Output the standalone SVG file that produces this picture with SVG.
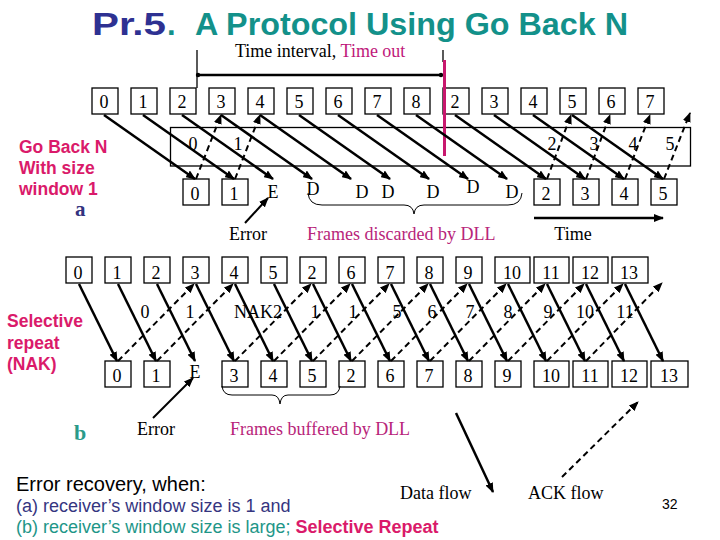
<svg xmlns="http://www.w3.org/2000/svg" width="720" height="540" viewBox="0 0 720 540">
<defs>
<marker id="ah" viewBox="0 0 10 8" refX="9" refY="4" markerWidth="10" markerHeight="8" markerUnits="userSpaceOnUse" orient="auto"><path d="M0,0 L10,4 L0,8 z" fill="#000"/></marker>
<style>
.box{fill:#fff;stroke:#000;stroke-width:1.3}
.num{font-family:"Liberation Serif","Times New Roman",serif;font-size:18px;fill:#000;text-anchor:middle}
.ser{font-family:"Liberation Serif","Times New Roman",serif;font-size:18px;fill:#000}
.mag{fill:#B8257A}
.lbl{font-family:"Liberation Sans",Arial,sans-serif;font-weight:bold;font-size:17.5px;fill:#DA1A6A}
.data{stroke:#000;stroke-width:2.5;fill:none;marker-end:url(#ah)}
.ack{stroke:#000;stroke-width:2;stroke-dasharray:6 4;fill:none;marker-end:url(#ah)}
.thin{stroke:#000;stroke-width:1.3;fill:none}
.sans{font-family:"Liberation Sans",Arial,sans-serif;font-size:18px}
</style>
</defs>
<rect width="720" height="540" fill="#fff"/>

<!-- Title -->
<text x="92" y="35" font-family="Liberation Sans, Arial, sans-serif" font-weight="bold" font-size="31" fill="#2E3192" textLength="74" lengthAdjust="spacingAndGlyphs">Pr.5</text>
<text x="167" y="35" font-family="Liberation Sans, Arial, sans-serif" font-weight="bold" font-size="31" fill="#13918A">.</text>
<text x="195" y="35" font-family="Liberation Sans, Arial, sans-serif" font-weight="bold" font-size="31" fill="#13918A" textLength="433" lengthAdjust="spacingAndGlyphs">A Protocol Using Go Back N</text>

<!-- Time-out interval -->
<g id="timeout">
<text class="ser" x="235" y="57">Time interval, <tspan fill="#C0187A">Time out</tspan></text>
<line class="thin" x1="197" y1="50" x2="197" y2="88"/>
<line class="thin" x1="443" y1="50" x2="443" y2="62"/>
<line x1="197" y1="75" x2="442" y2="75" stroke="#000" stroke-width="2.5"/>
<circle cx="198" cy="75" r="2.2" fill="#000"/>
<circle cx="441" cy="75" r="2.2" fill="#000"/>
</g>

<!-- Left labels -->
<text class="lbl" x="19" y="153">Go Back N</text>
<text class="lbl" x="19" y="174">With size</text>
<text class="lbl" x="19" y="195">window 1</text>
<text x="75" y="216" font-family="Liberation Serif, serif" font-weight="bold" font-size="21" fill="#333380">a</text>
<text class="lbl" x="7" y="327" font-size="18">Selective</text>
<text class="lbl" x="7" y="349" font-size="18">repeat</text>
<text class="lbl" x="7" y="370" font-size="18">(NAK)</text>
<text x="74" y="440" font-family="Liberation Serif, serif" font-weight="bold" font-size="22" fill="#2A9A8A">b</text>

<!-- Part a: receiver band -->
<rect id="a-band" x="170.5" y="127.5" width="520" height="38.5" fill="none" stroke="#000" stroke-width="1.3"/>

<!-- Part a top row -->
<g id="a-top0"><rect class="box" x="92" y="88" width="26" height="26"/><text class="num" x="104" y="108">0</text></g>
<g id="a-top1"><rect class="box" x="131" y="88" width="26" height="26"/><text class="num" x="143" y="108">1</text></g>
<g id="a-top2"><rect class="box" x="170" y="88" width="26" height="26"/><text class="num" x="182" y="108">2</text></g>
<g id="a-top3"><rect class="box" x="209" y="88" width="26" height="26"/><text class="num" x="221" y="108">3</text></g>
<g id="a-top4"><rect class="box" x="248" y="88" width="26" height="26"/><text class="num" x="260" y="108">4</text></g>
<g id="a-top5"><rect class="box" x="287" y="88" width="26" height="26"/><text class="num" x="299" y="108">5</text></g>
<g id="a-top6"><rect class="box" x="326" y="88" width="26" height="26"/><text class="num" x="338" y="108">6</text></g>
<g id="a-top7"><rect class="box" x="365" y="88" width="26" height="26"/><text class="num" x="377" y="108">7</text></g>
<g id="a-top8"><rect class="box" x="404" y="88" width="26" height="26"/><text class="num" x="416" y="108">8</text></g>
<g id="a-top9"><rect class="box" x="443" y="88" width="26" height="26"/><text class="num" x="455" y="108">2</text></g>
<g id="a-top10"><rect class="box" x="482" y="88" width="26" height="26"/><text class="num" x="494" y="108">3</text></g>
<g id="a-top11"><rect class="box" x="521" y="88" width="26" height="26"/><text class="num" x="533" y="108">4</text></g>
<g id="a-top12"><rect class="box" x="560" y="88" width="26" height="26"/><text class="num" x="572" y="108">5</text></g>
<g id="a-top13"><rect class="box" x="599" y="88" width="26" height="26"/><text class="num" x="611" y="108">6</text></g>
<g id="a-top14"><rect class="box" x="638" y="88" width="26" height="26"/><text class="num" x="650" y="108">7</text></g>

<!-- Part a bottom row -->
<g id="a-bot0"><rect class="box" x="183" y="179" width="26" height="26"/><text class="num" x="195" y="200">0</text></g>
<g id="a-bot1"><rect class="box" x="222" y="179" width="26" height="26"/><text class="num" x="234" y="200">1</text></g>
<g id="a-botE"><text class="num" x="273" y="198">E</text></g>
<g id="a-botD1"><text class="num" x="313" y="195">D</text></g>
<g id="a-botD2"><text class="num" x="362" y="198">D</text></g>
<g id="a-botD3"><text class="num" x="388" y="198">D</text></g>
<g id="a-botD4"><text class="num" x="433" y="198">D</text></g>
<g id="a-botD5"><text class="num" x="473" y="193">D</text></g>
<g id="a-botD6"><text class="num" x="512" y="198">D</text></g>
<g id="a-bot2"><rect class="box" x="534" y="179" width="26" height="26"/><text class="num" x="546" y="200">2</text></g>
<g id="a-bot3"><rect class="box" x="573" y="179" width="26" height="26"/><text class="num" x="585" y="200">3</text></g>
<g id="a-bot4"><rect class="box" x="612" y="179" width="26" height="26"/><text class="num" x="624" y="200">4</text></g>
<g id="a-bot5"><rect class="box" x="651" y="179" width="26" height="26"/><text class="num" x="663" y="200">5</text></g>

<!-- Part a band labels -->
<g id="a-acklabels">
<text class="num" x="193" y="150">0</text>
<text class="num" x="238" y="150">1</text>
<text class="num" x="552" y="150">2</text>
<text class="num" x="594" y="150">3</text>
<text class="num" x="633" y="150">4</text>
<text class="num" x="670" y="150">5</text>
</g>

<!-- Part a annotations -->
<g id="a-notes">
<text class="num" x="248" y="240">Error</text>
<text class="ser mag" x="307" y="240">Frames discarded by DLL</text>
<text class="num" x="573" y="240">Time</text>
<path d="M308,193 Q309,205 322,205 L404,205 Q413,205 414,214 Q415,205 424,205 L508,205 Q521,205 522,193" fill="none" stroke="#000" stroke-width="1"/>
</g>

<!-- Part b top row -->
<g id="b-top0"><rect class="box" x="66" y="257" width="26" height="26"/><text class="num" x="78" y="279">0</text></g>
<g id="b-top1"><rect class="box" x="105" y="257" width="26" height="26"/><text class="num" x="117" y="279">1</text></g>
<g id="b-top2"><rect class="box" x="144" y="257" width="26" height="26"/><text class="num" x="156" y="279">2</text></g>
<g id="b-top3"><rect class="box" x="183" y="257" width="26" height="26"/><text class="num" x="195" y="279">3</text></g>
<g id="b-top4"><rect class="box" x="222" y="257" width="26" height="26"/><text class="num" x="234" y="279">4</text></g>
<g id="b-top5"><rect class="box" x="261" y="257" width="26" height="26"/><text class="num" x="273" y="279">5</text></g>
<g id="b-top6"><rect class="box" x="300" y="257" width="26" height="26"/><text class="num" x="312" y="279">2</text></g>
<g id="b-top7"><rect class="box" x="339" y="257" width="26" height="26"/><text class="num" x="351" y="279">6</text></g>
<g id="b-top8"><rect class="box" x="378" y="257" width="26" height="26"/><text class="num" x="390" y="279">7</text></g>
<g id="b-top9"><rect class="box" x="417" y="257" width="26" height="26"/><text class="num" x="429" y="279">8</text></g>
<g id="b-top10"><rect class="box" x="456" y="257" width="26" height="26"/><text class="num" x="468" y="279">9</text></g>
<g id="b-top11"><rect class="box" x="495" y="257" width="35" height="26"/><text class="num" x="512" y="279">10</text></g>
<g id="b-top12"><rect class="box" x="534" y="257" width="35" height="26"/><text class="num" x="551" y="279">11</text></g>
<g id="b-top13"><rect class="box" x="573" y="257" width="35" height="26"/><text class="num" x="590" y="279">12</text></g>
<g id="b-top14"><rect class="box" x="612" y="257" width="36" height="26"/><text class="num" x="629" y="279">13</text></g>

<!-- Part b bottom row -->
<g id="b-bot0"><rect class="box" x="105" y="361" width="26" height="26"/><text class="num" x="117" y="382">0</text></g>
<g id="b-bot1"><rect class="box" x="144" y="361" width="26" height="26"/><text class="num" x="156" y="382">1</text></g>
<g id="b-botE"><text class="num" x="195" y="378">E</text></g>
<g id="b-bot3"><rect class="box" x="222" y="361" width="26" height="26"/><text class="num" x="234" y="382">3</text></g>
<g id="b-bot4"><rect class="box" x="261" y="361" width="26" height="26"/><text class="num" x="273" y="382">4</text></g>
<g id="b-bot5"><rect class="box" x="300" y="361" width="26" height="26"/><text class="num" x="312" y="382">5</text></g>
<g id="b-bot6"><rect class="box" x="339" y="361" width="26" height="26"/><text class="num" x="351" y="382">2</text></g>
<g id="b-bot7"><rect class="box" x="378" y="361" width="26" height="26"/><text class="num" x="390" y="382">6</text></g>
<g id="b-bot8"><rect class="box" x="417" y="361" width="26" height="26"/><text class="num" x="429" y="382">7</text></g>
<g id="b-bot9"><rect class="box" x="456" y="361" width="26" height="26"/><text class="num" x="468" y="382">8</text></g>
<g id="b-bot10"><rect class="box" x="495" y="361" width="26" height="26"/><text class="num" x="507" y="382">9</text></g>
<g id="b-bot11"><rect class="box" x="534" y="361" width="35" height="26"/><text class="num" x="551" y="382">10</text></g>
<g id="b-bot12"><rect class="box" x="573" y="361" width="35" height="26"/><text class="num" x="590" y="382">11</text></g>
<g id="b-bot13"><rect class="box" x="612" y="361" width="35" height="26"/><text class="num" x="629" y="382">12</text></g>
<g id="b-bot14"><rect class="box" x="651" y="361" width="37" height="26"/><text class="num" x="669" y="382">13</text></g>

<!-- Part b ack labels -->
<g id="b-acklabels">
<text class="num" x="145" y="318">0</text>
<text class="num" x="190" y="318">1</text>
<text class="num" x="258" y="318">NAK2</text>
<text class="num" x="315" y="318">1</text>
<text class="num" x="353" y="318">1</text>
<text class="num" x="397" y="318">5</text>
<text class="num" x="432" y="318">6</text>
<text class="num" x="470" y="318">7</text>
<text class="num" x="508" y="318">8</text>
<text class="num" x="548" y="318">9</text>
<text class="num" x="585" y="318">10</text>
<text class="num" x="625" y="318">11</text>
</g>

<!-- Part b annotations -->
<g id="b-notes">
<text class="num" x="156" y="435">Error</text>
<text class="ser mag" x="230" y="435">Frames buffered by DLL</text>
<path d="M222,386 Q223,395 232,395 L272,395 Q279,395 280,404 Q281,395 288,395 L330,395 Q339,395 340,386" fill="none" stroke="#000" stroke-width="1"/>
</g>

<!-- Legend -->
<g id="legend">
<text class="ser" x="400" y="499">Data flow</text>
<text class="ser" x="528" y="499">ACK flow</text>
<text x="662" y="509" font-family="Liberation Sans, Arial, sans-serif" font-size="14" fill="#000">32</text>
</g>

<!-- Bottom text -->
<text x="16" y="491" font-family="Liberation Sans, Arial, sans-serif" font-size="20" fill="#000">Error recovery, when:</text>
<text class="sans" x="16" y="512" fill="#35357F">(a) receiver’s window size is 1 and</text>
<text class="sans" x="16" y="533" fill="#1E9688">(b) receiver’s window size is large; <tspan font-weight="bold" fill="#DA1A6A">Selective Repeat</tspan></text>

<!-- Connectors -->
<g id="connectors">
<line x1="444.5" y1="60" x2="444.5" y2="156" stroke="#C8186E" stroke-width="3"/>
<!-- part a data -->
<line class="data" x1="104" y1="115" x2="195" y2="179"/>
<line class="data" x1="143" y1="115" x2="234" y2="179"/>
<line class="data" x1="182" y1="115" x2="273" y2="179"/>
<line class="data" x1="221" y1="115" x2="312" y2="179"/>
<line class="data" x1="260" y1="115" x2="351" y2="179"/>
<line class="data" x1="299" y1="115" x2="390" y2="179"/>
<line class="data" x1="338" y1="115" x2="429" y2="179"/>
<line class="data" x1="377" y1="115" x2="468" y2="179"/>
<line class="data" x1="416" y1="115" x2="507" y2="179"/>
<line class="data" x1="455" y1="115" x2="546" y2="179"/>
<line class="data" x1="494" y1="115" x2="585" y2="179"/>
<line class="data" x1="533" y1="115" x2="624" y2="179"/>
<line class="data" x1="572" y1="115" x2="663" y2="179"/>
<!-- part a acks -->
<line class="ack" x1="196" y1="179" x2="221" y2="115"/>
<line class="ack" x1="235" y1="179" x2="260" y2="115"/>
<line class="ack" x1="547" y1="179" x2="571" y2="115"/>
<line class="ack" x1="586" y1="179" x2="610" y2="115"/>
<line class="ack" x1="625" y1="179" x2="650" y2="115"/>
<line class="ack" x1="664" y1="179" x2="690" y2="113"/>
<!-- part a misc -->
<line x1="245" y1="223" x2="268" y2="198" stroke="#000" stroke-width="2" marker-end="url(#ah)"/>
<line class="data" x1="534" y1="218" x2="663" y2="218"/>
<!-- part b data -->
<line class="data" x1="79" y1="284" x2="117" y2="361"/>
<line class="data" x1="118" y1="284" x2="156" y2="361"/>
<line class="data" x1="157" y1="284" x2="195" y2="361"/>
<line class="data" x1="196" y1="284" x2="234" y2="361"/>
<line class="data" x1="235" y1="284" x2="273" y2="361"/>
<line class="data" x1="274" y1="284" x2="312" y2="361"/>
<line class="data" x1="313" y1="284" x2="351" y2="361"/>
<line class="data" x1="352" y1="284" x2="390" y2="361"/>
<line class="data" x1="391" y1="284" x2="429" y2="361"/>
<line class="data" x1="430" y1="284" x2="468" y2="361"/>
<line class="data" x1="469" y1="284" x2="507" y2="361"/>
<line class="data" x1="508" y1="284" x2="546" y2="361"/>
<line class="data" x1="547" y1="284" x2="585" y2="361"/>
<line class="data" x1="586" y1="284" x2="624" y2="361"/>
<line class="data" x1="625" y1="284" x2="663" y2="361"/>
<!-- part b acks -->
<line class="ack" x1="118" y1="361" x2="194" y2="284"/>
<line class="ack" x1="157" y1="361" x2="233" y2="284"/>
<line class="ack" x1="235" y1="361" x2="311" y2="284"/>
<line class="ack" x1="274" y1="361" x2="350" y2="284"/>
<line class="ack" x1="313" y1="361" x2="389" y2="284"/>
<line class="ack" x1="352" y1="361" x2="428" y2="284"/>
<line class="ack" x1="391" y1="361" x2="467" y2="284"/>
<line class="ack" x1="430" y1="361" x2="506" y2="284"/>
<line class="ack" x1="469" y1="361" x2="545" y2="284"/>
<line class="ack" x1="508" y1="361" x2="584" y2="284"/>
<line class="ack" x1="547" y1="361" x2="623" y2="284"/>
<line class="ack" x1="586" y1="361" x2="662" y2="283"/>
<!-- part b misc -->
<line x1="153" y1="418" x2="193" y2="378" stroke="#000" stroke-width="2" marker-end="url(#ah)"/>
<!-- legend arrows -->
<line class="data" x1="456" y1="413" x2="493" y2="492"/>
<line class="ack" x1="562" y1="477" x2="638" y2="402"/>
</g>
</svg>
